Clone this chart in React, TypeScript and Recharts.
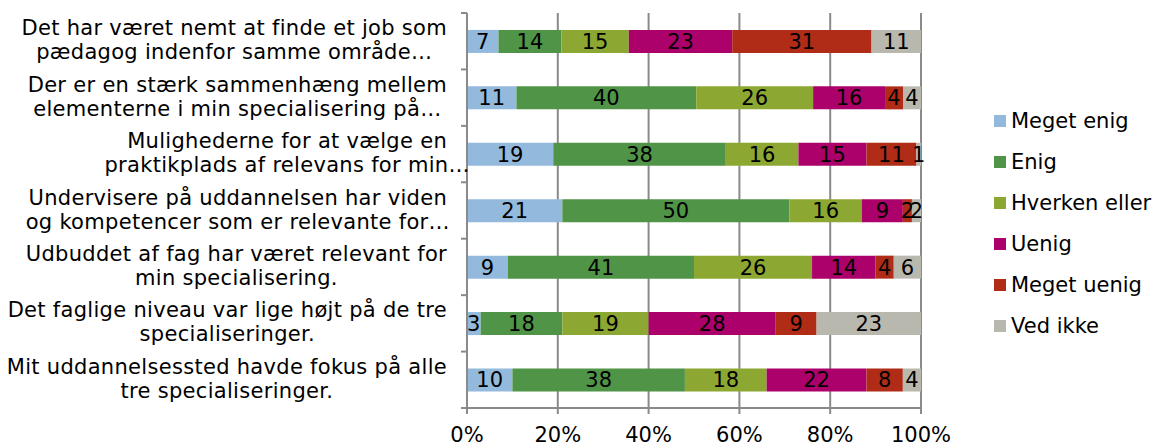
import React from 'react';
import { BarChart, Bar, XAxis, YAxis, CartesianGrid, LabelList, Legend } from 'recharts';

const categories = ['q1', 'q2', 'q3', 'q4', 'q5', 'q6', 'q7'];
const categoryLines: string[][] = [
  ['Det har været nemt at finde et job som', 'pædagog indenfor samme område…'],
  ['Der er en stærk sammenhæng mellem', 'elementerne i min specialisering på…'],
  ['Mulighederne for at vælge en', 'praktikplads af relevans for min…'],
  ['Undervisere på uddannelsen har viden', 'og kompetencer som er relevante for…'],
  ['Udbuddet af fag har været relevant for', 'min specialisering.'],
  ['Det faglige niveau var lige højt på de tre', 'specialiseringer.'],
  ['Mit uddannelsessted havde fokus på alle', 'tre specialiseringer.'],
];

const megetEnig = [7, 11, 19, 21, 9, 3, 10];
const enig = [14, 40, 38, 50, 41, 18, 38];
const hverkenEller = [15, 26, 16, 16, 26, 19, 18];
const uenig = [23, 16, 15, 9, 14, 28, 22];
const megetUenig = [31, 4, 11, 2, 4, 9, 8];
const vedIkke = [11, 4, 1, 2, 6, 23, 4];

const seriesNames = ['Meget enig', 'Enig', 'Hverken eller', 'Uenig', 'Meget uenig', 'Ved ikke'];
const seriesKeys = ['megetEnig', 'enig', 'hverkenEller', 'uenig', 'megetUenig', 'vedIkke'];
const seriesColors = ['#93B9DC', '#4F9447', '#8DA832', '#AC006A', '#B02C17', '#B9B8AF'];
const xTicks = [0, 0.2, 0.4, 0.6, 0.8, 1];

const data = categories.map((c, i) => ({
  name: c,
  megetEnig: megetEnig[i],
  enig: enig[i],
  hverkenEller: hverkenEller[i],
  uenig: uenig[i],
  megetUenig: megetUenig[i],
  vedIkke: vedIkke[i],
}));

const FONT = '"DejaVu Sans", Verdana, sans-serif';
const FONT_SIZE = 21;
const Y_LETTER = 0.3;
const W = 1155;
const H = 443;
const AXIS_X = 467;
const PLOT_RIGHT = 921;
const PLOT_TOP = 13;
const PLOT_BOTTOM = 408;
const LABEL_RIGHT = 447;
const GRID = '#8a8a8a';

let measureCtx: CanvasRenderingContext2D | null = null;
function measure(text: string): number {
  if (typeof document === 'undefined') return text.length * 11;
  if (!measureCtx) {
    const cv = document.createElement('canvas');
    measureCtx = cv.getContext('2d');
  }
  if (!measureCtx) return text.length * 11;
  measureCtx.font = `${FONT_SIZE}px "DejaVu Sans"`;
  return measureCtx.measureText(text).width + Y_LETTER * text.length;
}

const band = (PLOT_BOTTOM - PLOT_TOP) / categories.length;

const YTick = (props: any) => {
  const { y, payload, index } = props;
  const idx = categories.indexOf(payload.value);
  const lines = categoryLines[idx] || [];
  const w1 = measure(lines[0] || '');
  const cx = LABEL_RIGHT - w1 / 2;
  return (
    <g>
      <line x1={AXIS_X - 6} x2={AXIS_X} y1={y + band / 2} y2={y + band / 2} stroke={GRID} strokeWidth={2} />
      {index === 0 && (
        <line x1={AXIS_X - 6} x2={AXIS_X} y1={y - band / 2} y2={y - band / 2} stroke={GRID} strokeWidth={2} />
      )}
      {lines.map((l, i) => (
        <text
          key={i}
          x={cx}
          y={y - 6 + i * 24}
          textAnchor="middle"
          fontSize={FONT_SIZE}
          fontFamily={FONT}
          letterSpacing={Y_LETTER}
          fill="#000"
        >
          {l}
        </text>
      ))}
    </g>
  );
};

const LegendContent = () => (
  <div style={{ fontFamily: FONT, fontSize: FONT_SIZE, color: '#000' }}>
    {seriesNames.map((n, i) => (
      <div key={n} style={{ height: 41, display: 'flex', alignItems: 'center', whiteSpace: 'nowrap' }}>
        <span style={{ width: 12, height: 12, background: seriesColors[i], display: 'inline-block', marginRight: 5 }} />
        <span>{n}</span>
      </div>
    ))}
  </div>
);

export default function App() {
  return (
    <div style={{ position: 'absolute', left: 0, top: 0, width: W, height: H, background: '#fff' }}>
      <BarChart
        width={W}
        height={H}
        data={data}
        layout="vertical"
        stackOffset="expand"
        barCategoryGap="30%"
        margin={{ top: PLOT_TOP, right: W - PLOT_RIGHT, bottom: 0, left: 0 }}
        style={{ fontFamily: FONT }}
      >
        <CartesianGrid horizontal={false} vertical={true} stroke={GRID} strokeWidth={2} />
        <XAxis
          type="number"
          domain={[0, 1]}
          ticks={xTicks}
          tickFormatter={(v: number) => `${Math.round(v * 100)}%`}
          height={H - PLOT_BOTTOM}
          axisLine={{ stroke: GRID, strokeWidth: 2 }}
          tickLine={{ stroke: GRID, strokeWidth: 2 }}
          tickSize={6}
          tickMargin={13}
          tick={{ fill: '#000', fontSize: FONT_SIZE, fontFamily: FONT }}
          interval={0}
        />
        <YAxis
          type="category"
          dataKey="name"
          width={AXIS_X}
          axisLine={{ stroke: GRID, strokeWidth: 2 }}
          tickLine={false}
          tick={<YTick />}
          interval={0}
        />
        <Legend
          layout="horizontal"
          align="center"
          verticalAlign="middle"
          content={<LegendContent />}
          wrapperStyle={{ position: 'absolute', left: 994, top: 100, width: 161 }}
        />
        {seriesKeys.map((k, i) => (
          <Bar key={k} dataKey={k} name={seriesNames[i]} stackId="a" fill={seriesColors[i]} isAnimationActive={false}>
            <LabelList dataKey={k} position="center" fill="#000" fontSize={FONT_SIZE} fontFamily={FONT} />
          </Bar>
        ))}
      </BarChart>
    </div>
  );
}
